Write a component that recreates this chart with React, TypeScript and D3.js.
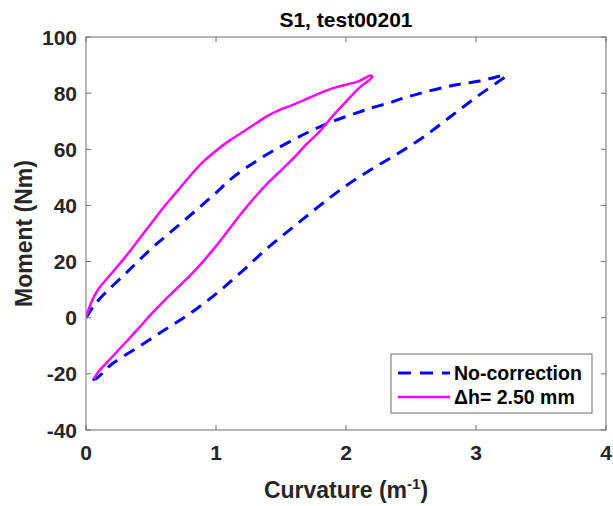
import React from "react";
import * as d3 from "d3";

const blueX = [0, 0.05, 0.11, 0.31, 0.5, 0.65, 0.88, 1.0, 1.13, 1.3, 1.44, 1.6, 1.75, 1.9, 2.06, 2.2, 2.34, 2.44, 2.6, 2.78, 2.9, 3.03, 3.12, 3.2, 3.23,
  3.2, 3.0, 2.8, 2.6, 2.4, 2.2, 2.0, 1.8, 1.6, 1.4, 1.2, 1.0, 0.8, 0.6, 0.4, 0.2, 0.08, 0.05];
const blueY = [0, 3.5, 7, 16, 24.5, 30.5, 39.6, 44.5, 50, 55.5, 59.5, 63.5, 67, 70, 72.6, 74.8, 76.6, 78.2, 80.3, 82.3, 83.4, 84.3, 85.3, 86.2, 86.0,
  85, 78.5, 71.5, 64.5, 58.5, 53, 47, 40, 32.5, 25, 16.5, 8.5, 1.5, -4.5, -10.5, -16.5, -21.6, -22];

const magX = [0, 0.02, 0.05, 0.1, 0.2, 0.3, 0.4, 0.5, 0.6, 0.7, 0.8, 0.9, 1.0, 1.1, 1.2, 1.3, 1.4, 1.5, 1.6, 1.7, 1.8, 1.9, 2.0, 2.1, 2.19,
  2.2, 2.1, 2.0, 1.9, 1.8, 1.7, 1.6, 1.5, 1.4, 1.3, 1.2, 1.1, 1.0, 0.9, 0.8, 0.7, 0.6, 0.5, 0.4, 0.3, 0.2, 0.1, 0.06];
const magY = [0, 3, 6.5, 10.5, 16, 21.5, 27.5, 33.5, 39.5, 45, 50.5, 55.5, 59.5, 63, 66, 69, 72, 74.2, 76, 78, 80, 81.8, 83, 84.3, 86.3,
  85.8, 81.8, 77, 72, 66.5, 62, 57, 52.5, 48, 43, 37.5, 31.5, 25.5, 20, 15, 10.5, 6, 1.2, -4, -9, -14, -19, -21.8];

const xTicks = [0, 1, 2, 3, 4];
const yTicks = [-40, -20, 0, 20, 40, 60, 80, 100];
const seriesNames = ["No-correction", "\u0394h= 2.50 mm"];
const titleText = "S1, test00201";

export default function App() {
  const W = 613, H = 506;
  const left = 86, right = 606, top = 37, bottom = 430;
  const x = d3.scaleLinear().domain([0, 4]).range([left, right]);
  const y = d3.scaleLinear().domain([-40, 100]).range([bottom, top]);
  const line = d3.line<[number, number]>().x(d => x(d[0])).y(d => y(d[1])).curve(d3.curveCatmullRom.alpha(0.5));
  const blue = line(blueX.map((v, i) => [v, blueY[i]] as [number, number])) || "";
  const mag = line(magX.map((v, i) => [v, magY[i]] as [number, number])) || "";
  const font = "'Liberation Sans', Arial, Helvetica, sans-serif";
  const axisColor = "#6e6e6e";
  const textColor = "#262626";
  const tl = 5;
  return (
    <svg width={W} height={H} style={{ position: "absolute", left: 0, top: 0, background: "#fff" }} fontFamily={font}>
      <rect x={0} y={0} width={W} height={H} fill="#fff" />
      <defs>
        <clipPath id="plotclip"><rect x={left} y={top} width={right - left} height={bottom - top} /></clipPath>
      </defs>
      <g clipPath="url(#plotclip)">
        <path d={blue} fill="none" stroke="#0000ff" strokeWidth={3} strokeDasharray="12,8" />
        <path d={mag} fill="none" stroke="#ff00ff" strokeWidth={2.5} />
      </g>
      <rect x={left} y={top} width={right - left} height={bottom - top} fill="none" stroke={axisColor} strokeWidth={1} />
      {xTicks.map(t => (
        <g key={"xt" + t}>
          <line x1={x(t)} x2={x(t)} y1={bottom} y2={bottom - tl} stroke={axisColor} />
          <line x1={x(t)} x2={x(t)} y1={top} y2={top + tl} stroke={axisColor} />
          <text x={x(t)} y={460} textAnchor="middle" fontSize={21} fontWeight="bold" fill={textColor}>{t}</text>
        </g>
      ))}
      {yTicks.map(t => (
        <g key={"yt" + t}>
          <line x1={left} x2={left + tl} y1={y(t)} y2={y(t)} stroke={axisColor} />
          <line x1={right} x2={right - tl} y1={y(t)} y2={y(t)} stroke={axisColor} />
          <text x={77} y={y(t) + 7.5} textAnchor="end" fontSize={21} fontWeight="bold" fill={textColor}>{t}</text>
        </g>
      ))}
      <text x={(left + right) / 2} y={27} textAnchor="middle" fontSize={21} fontWeight="bold" fill="#000">{titleText}</text>
      <text x={(left + right) / 2} y={498} textAnchor="middle" fontSize={23} fontWeight="bold" fill={textColor}>
        Curvature (m<tspan dy={-9} fontSize={15}>-1</tspan><tspan dy={9}>)</tspan>
      </text>
      <text transform={`translate(32,${(top + bottom) / 2}) rotate(-90)`} textAnchor="middle" fontSize={23} fontWeight="bold" fill={textColor}>Moment (Nm)</text>
      <g>
        <rect x={391} y={354} width={201} height={59} fill="#fff" stroke={axisColor} />
        <line x1={398} x2={450} y1={373} y2={373} stroke="#0000ff" strokeWidth={3} strokeDasharray="13,9" />
        <line x1={398} x2={450} y1={397} y2={397} stroke="#ff00ff" strokeWidth={2.5} />
        <text x={454} y={379.5} fontSize={19.5} fontWeight="bold" fill="#000">{seriesNames[0]}</text>
        <text x={454} y={403.5} fontSize={19.5} fontWeight="bold" fill="#000">{seriesNames[1]}</text>
      </g>
    </svg>
  );
}
